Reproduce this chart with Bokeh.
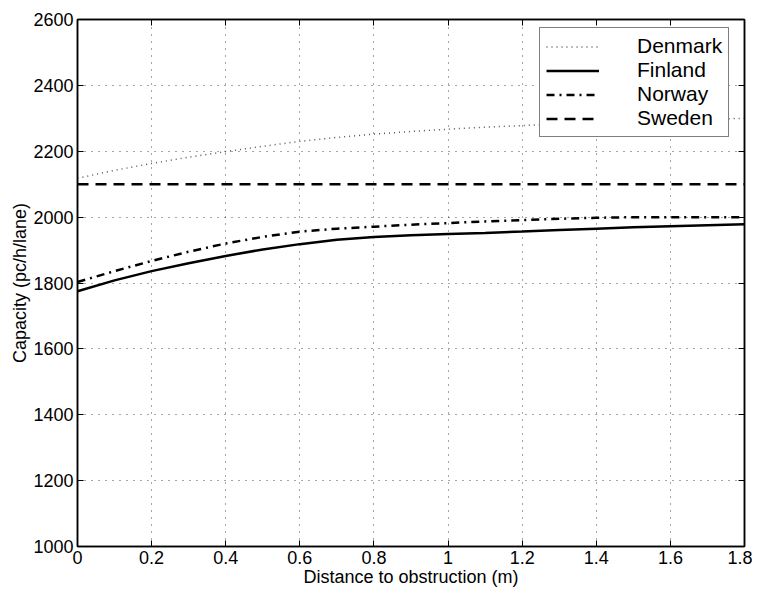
from bokeh.plotting import figure
from bokeh.models import LinearAxis, Range1d, Legend, LegendItem, FixedTicker
from bokeh.embed import file_html
from bokeh.resources import INLINE

distance = [0.0, 0.1, 0.2, 0.3, 0.4, 0.5, 0.6, 0.7, 0.8, 0.9,
            1.0, 1.1, 1.2, 1.3, 1.4, 1.5, 1.6, 1.7, 1.8]
denmark = [2118, 2142, 2163, 2182, 2199, 2215, 2230, 2242, 2252, 2260,
           2267, 2273, 2278, 2283, 2287, 2291, 2294, 2297, 2300]
finland = [1775, 1808, 1836, 1860, 1882, 1902, 1918, 1931, 1940, 1945,
           1949, 1952, 1956, 1961, 1965, 1969, 1972, 1975, 1978]
norway = [1803, 1836, 1867, 1895, 1920, 1940, 1956, 1965, 1971, 1977,
          1982, 1987, 1991, 1995, 1998, 2000, 2000, 2000, 2000]
sweden = [2100] * 19

x_ticks = [0, 0.2, 0.4, 0.6, 0.8, 1.0, 1.2, 1.4, 1.6, 1.8]
y_ticks = [1000, 1200, 1400, 1600, 1800, 2000, 2200, 2400, 2600]

FONT = "Liberation Sans"

p = figure(width=752, height=591, output_backend="svg", toolbar_location=None,
           x_range=Range1d(0, 1.8), y_range=Range1d(1000, 2600),
           min_border_left=77, min_border_right=8, min_border_top=19,
           min_border_bottom=45)
p.background_fill_color = "white"
p.border_fill_color = "white"
p.outline_line_color = "black"
p.outline_line_width = 1.5

r_den = p.line(distance, denmark, line_color="#555555", line_width=1.5, line_dash="1 4")
r_fin = p.line(distance, finland, line_color="black", line_width=2.5)
r_nor = p.line(distance, norway, line_color="black", line_width=2.5, line_dash="8 5 2 5")
r_swe = p.line(distance, sweden, line_color="black", line_width=2.5, line_dash="11 7")

def style_axis(ax, show_labels=True):
    ax.axis_line_color = "black"
    ax.axis_line_width = 1.5
    ax.major_tick_in = 6
    ax.major_tick_out = 0
    ax.major_tick_line_color = "black"
    ax.minor_tick_line_color = None
    ax.major_label_text_font = FONT
    ax.major_label_text_color = "black"
    ax.major_label_text_font_size = "18px"
    ax.major_label_standoff = 4 if show_labels else 0

p.xaxis.ticker = FixedTicker(ticks=x_ticks)
p.yaxis.ticker = FixedTicker(ticks=y_ticks)
style_axis(p.xaxis[0])
style_axis(p.yaxis[0])
p.xaxis.axis_label = "Distance to obstruction (m)"
p.yaxis.axis_label = "Capacity (pc/h/lane)"
for ax in (p.xaxis[0], p.yaxis[0]):
    ax.axis_label_text_font = FONT
    ax.axis_label_text_font_size = "18px"
    ax.axis_label_text_font_style = "normal"
    ax.axis_label_text_color = "black"
    ax.axis_label_standoff = 0
p.xaxis.major_label_overrides = {0: "0", 1.0: "1"}

top_ax = LinearAxis(ticker=FixedTicker(ticks=x_ticks),
                    major_label_overrides={t: "" for t in x_ticks})
right_ax = LinearAxis(ticker=FixedTicker(ticks=y_ticks),
                      major_label_overrides={t: "" for t in y_ticks})
style_axis(top_ax, False)
style_axis(right_ax, False)
p.add_layout(top_ax, "above")
p.add_layout(right_ax, "right")

for g in (p.xgrid[0], p.ygrid[0]):
    g.grid_line_color = "black"
    g.grid_line_alpha = 0.7
    g.grid_line_width = 1
    g.grid_line_dash = "1 6"
p.xgrid.ticker = FixedTicker(ticks=x_ticks)
p.ygrid.ticker = FixedTicker(ticks=y_ticks)

legend = Legend(items=[
    LegendItem(label="Denmark", renderers=[r_den]),
    LegendItem(label="Finland", renderers=[r_fin]),
    LegendItem(label="Norway", renderers=[r_nor]),
    LegendItem(label="Sweden", renderers=[r_swe]),
], location=(462, 409))
legend.label_text_font = FONT
legend.label_text_font_size = "21px"
legend.label_text_color = "black"
legend.glyph_width = 53
legend.glyph_height = 21
legend.label_height = 21
legend.label_standoff = 38
legend.spacing = 0
legend.padding = 6
legend.margin = 0
legend.border_line_color = "black"
legend.border_line_width = 1
legend.background_fill_color = "white"
legend.background_fill_alpha = 1
p.add_layout(legend, "center")

open("out.html", "w").write(file_html(p, INLINE))
